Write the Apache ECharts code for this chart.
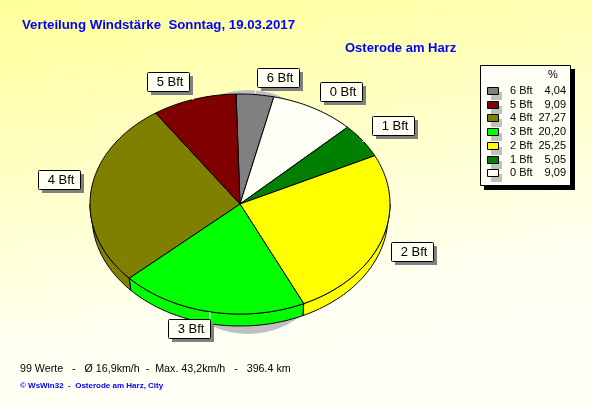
<!DOCTYPE html>
<html><head><meta charset="utf-8">
<style>html,body{margin:0;padding:0;background:#fff}#c{width:592px;height:407px}</style>
<script src="https://cdn.jsdelivr.net/npm/echarts@6/dist/echarts.min.js"></script>
</head><body><div id="c"></div>
<script>
// ---- data ----
const categories = ['6 Bft','0 Bft','1 Bft','2 Bft','3 Bft','4 Bft','5 Bft'];
const percentValues = [4.04,9.09,5.05,25.25,20.20,27.27,9.09];
const legendOrder = ['6 Bft','5 Bft','4 Bft','3 Bft','2 Bft','1 Bft','0 Bft'];
const titleText = 'Verteilung Windstärke  Sonntag, 19.03.2017';
const subtitleText = 'Osterode am Harz';
const statsText = '99 Werte   -   Ø 16,9km/h  -  Max. 43,2km/h   -   396.4 km';
const creditText = '© WsWin32  -  Osterode am Harz, City';
// ---- styles / layout ----
const sliceColors = ['#808080','#FFFFF8','#008000','#FFFF00','#00FF00','#808000','#800000'];
const labelBoxes = [[257,68],[320,82],[372,116],[391,242],[168,319],[38,170],[147,72]];
const leaders = [[257,87,255,93],[321,102,315,108],[372,135,362,142],null,[210,312,210,319],[81,190,90,192],[192,92,193,100]];
const CX=240, CY=204, RX=150, RY=110, DEPTH=12, WALL_RX=148, START=-1.5;

const total = percentValues.reduce((a,b)=>a+b,0);
const fmt = v => v.toFixed(2).replace('.',',');
function pt(deg,dy,rx){const r=deg*Math.PI/180;return [CX+(rx||RX)*Math.sin(r),CY-RY*Math.cos(r)+(dy||0)];}
function range(i){
  let a=START;
  for(let k=0;k<i;k++) a+=percentValues[k]/total*360;
  return [a,a+percentValues[i]/total*360];
}
function arc(a,b,dy,rx){
  const out=[],n=Math.max(2,Math.ceil((b-a)/1.5));
  for(let k=0;k<=n;k++) out.push(pt(a+(b-a)*k/n,dy,rx));
  return out;
}
const seriesData = categories.map((c,i)=>({name:c,value:percentValues[i]}));

function renderWall(p,api){
  const i=p.dataIndex,[a,b]=range(i);
  const s=Math.max(a,90),e=Math.min(b,270);
  if(e<=s) return {type:'group',children:[]};
  const pts=arc(s,e,0).concat(arc(s,e,DEPTH,WALL_RX).reverse());
  return {type:'polygon',shape:{points:pts},style:{fill:sliceColors[i],stroke:'#000',lineWidth:1}};
}
function renderFace(p,api){
  const i=p.dataIndex,[a,b]=range(i);
  const pts=[[CX,CY]].concat(arc(a,b,0));
  return {type:'polygon',shape:{points:pts},style:{fill:sliceColors[i],stroke:'#000',lineWidth:1}};
}
function renderLabel(p,api){
  const i=p.dataIndex,[x,y]=labelBoxes[i],w=42,h=19,ch=[];
  const l=leaders[i];
  if(l) ch.push({type:'line',shape:{x1:l[0],y1:l[1],x2:l[2],y2:l[3]},style:{stroke:'#FFFFFF',lineWidth:1}});
  ch.push({type:'rect',shape:{x:x+4,y:y+4,width:w,height:h},style:{fill:'#808080'}});
  ch.push({type:'rect',shape:{x:x+.5,y:y+.5,width:w,height:h,r:1},style:{fill:'#FFFFF2',stroke:'#000',lineWidth:1}});
  ch.push({type:'text',style:{text:categories[i],x:x+23,y:y+10,align:'center',verticalAlign:'middle',
    font:'13px "Liberation Sans"',fill:'#000'}});
  return {type:'group',children:ch};
}

const g=[];
const txt=(text,x,y,font,fill,align)=>g.push({type:'text',z:5,style:{text,x,y,font,fill,align:align||'left',verticalAlign:'middle'}});
txt(titleText,22,25,'bold 13.25px "Liberation Sans"','#0000FF');
txt(subtitleText,345,48,'bold 13px "Liberation Sans"','#0000FF');
txt(statsText,20,369,'10.7px "Liberation Sans"','#000');
txt(creditText,20,386,'bold 8px "Liberation Sans"','#0000FF');
// pie drop shadow
g.push({type:'ellipse',z:1,shape:{cx:248,cy:212,rx:101,ry:122},style:{fill:'#C0C0C0'}});
// legend box
g.push({type:'rect',z:3,shape:{x:484,y:69,width:91,height:121},style:{fill:'#000'}});
g.push({type:'rect',z:4,shape:{x:480.5,y:65.5,width:90,height:120},style:{fill:'#FFFFF5',stroke:'#000',lineWidth:1}});
txt('%',553,75,'11px "Liberation Sans"','#000','center');
legendOrder.forEach((name,r)=>{
  const i=categories.indexOf(name),y=91+r*13.7,yi=Math.round(y);
  g.push({type:'rect',z:5,shape:{x:491,y:yi+1,width:11,height:8},style:{fill:'#C0C0C0'}});
  g.push({type:'rect',z:6,shape:{x:487.5,y:yi-3.5,width:11,height:7},style:{fill:sliceColors[i],stroke:'#000',lineWidth:1}});
  txt(name,510,yi,'11px "Liberation Sans"','#000');
  txt(fmt(percentValues[i]),566,yi,'11px "Liberation Sans"','#000','right');
});

const chart=echarts.init(document.getElementById('c'),null,{renderer:'canvas'});
chart.setOption({
  animation:false,
  backgroundColor:new echarts.graphic.LinearGradient(0,0,0.12,1,[
    {offset:0,color:'#FFFF99'},{offset:.45,color:'#FFFFC8'},{offset:.85,color:'#FFFFF2'},{offset:1,color:'#FFFFF5'}]),
  graphic:{elements:g},
  series:[
    {type:'custom',coordinateSystem:'none',z:2,silent:true,data:seriesData,renderItem:renderWall},
    {type:'custom',coordinateSystem:'none',z:3,silent:true,data:seriesData,renderItem:renderFace},
    {type:'custom',coordinateSystem:'none',z:4,silent:true,data:seriesData,renderItem:renderLabel}
  ]
});
</script></body></html>
